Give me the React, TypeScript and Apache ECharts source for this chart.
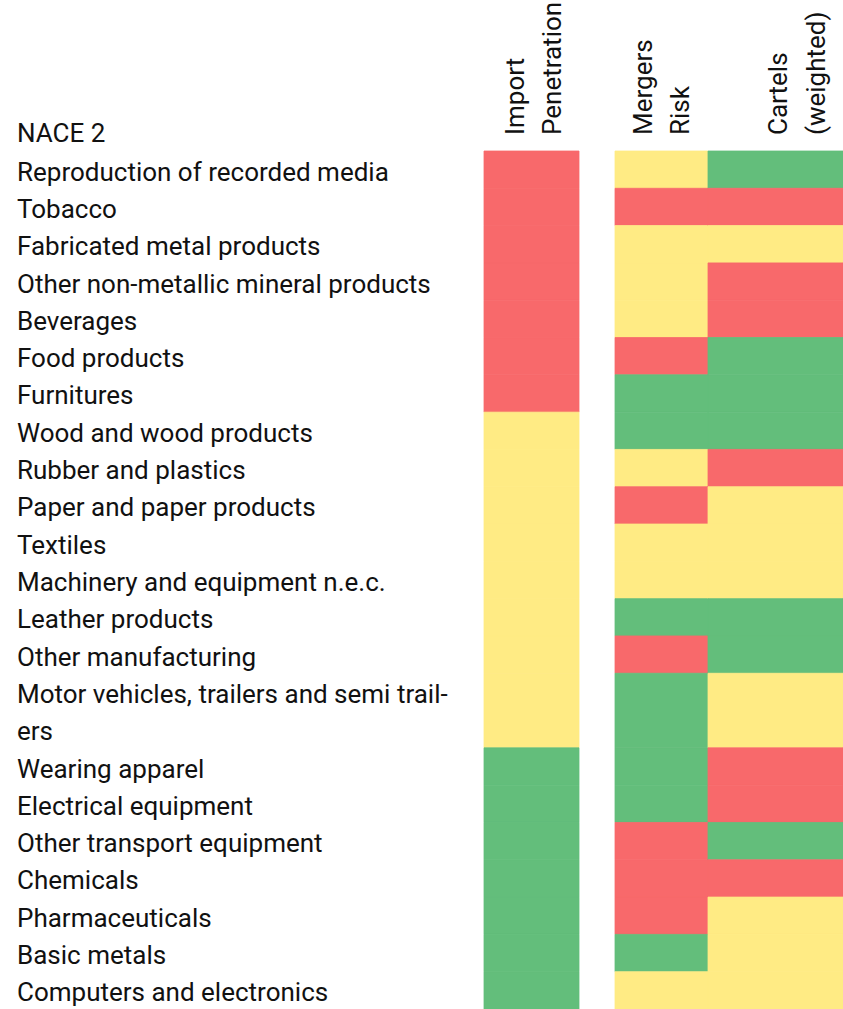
import React, { useEffect, useRef } from "react";
import * as echarts from "echarts";

const categories = [
  "Reproduction of recorded media",
  "Tobacco",
  "Fabricated metal products",
  "Other non-metallic mineral products",
  "Beverages",
  "Food products",
  "Furnitures",
  "Wood and wood products",
  "Rubber and plastics",
  "Paper and paper products",
  "Textiles",
  "Machinery and equipment n.e.c.",
  "Leather products",
  "Other manufacturing",
  "Motor vehicles, trailers and semi trail-\ners",
  "Wearing apparel",
  "Electrical equipment",
  "Other transport equipment",
  "Chemicals",
  "Pharmaceuticals",
  "Basic metals",
  "Computers and electronics",
];
const categoryLines = [1, 1, 1, 1, 1, 1, 1, 1, 1, 1, 1, 1, 1, 1, 2, 1, 1, 1, 1, 1, 1, 1];

// 0 = low (green), 1 = medium (yellow), 2 = high (red)
const importPenetration = [2, 2, 2, 2, 2, 2, 2, 1, 1, 1, 1, 1, 1, 1, 1, 0, 0, 0, 0, 0, 0, 0];
const mergersRisk = [1, 2, 1, 1, 1, 2, 0, 0, 1, 2, 1, 1, 0, 2, 0, 0, 0, 2, 2, 2, 0, 1];
const cartelsWeighted = [0, 2, 1, 2, 2, 0, 0, 0, 2, 1, 1, 1, 0, 0, 1, 2, 2, 0, 2, 1, 1, 1];

const columnTitles = [
  ["Import", "Penetration"],
  ["Mergers", "Risk"],
  ["Cartels", "(weighted)"],
];
const headerTitle = "NACE 2";

const levelColors = ["#63BE7B", "#FFEB84", "#F8696B"];

// layout (pixels)
const COLS = [
  { x0: 484, x1: 579, lines: [515, 552] },
  { x0: 615, x1: 708, lines: [643, 680] },
  { x0: 708, x1: 843, lines: [778, 816] },
];
const FONT = "Roboto";
const FONT_SIZE = 26;

export default function App() {
  const ref = useRef<HTMLDivElement>(null);
  useEffect(() => {
    const chart = echarts.init(ref.current!, undefined, { renderer: "svg" });
    const starts: number[] = [];
    let acc = 0;
    categoryLines.forEach((l) => {
      starts.push(acc);
      acc += l;
    });
    const total = acc;
    const columns = [importPenetration, mergersRisk, cartelsWeighted];
    const cellData: number[][] = [];
    columns.forEach((col, ci) =>
      col.forEach((lv, ri) => cellData.push([ci, starts[ri], categoryLines[ri], lv]))
    );
    const labelData = categories.map((_, i) => [0, starts[i], categoryLines[i], i]);

    const graphics: any[] = [
      {
        type: "text",
        x: 17,
        y: 133,
        style: {
          text: headerTitle,
          font: `${FONT_SIZE}px ${FONT}`,
          fill: "#111",
          align: "left",
          verticalAlign: "middle",
        },
      },
    ];
    columnTitles.forEach((lines, ci) =>
      lines.forEach((t, li) =>
        graphics.push({
          type: "text",
          x: COLS[ci].lines[li],
          y: 135,
          rotation: Math.PI / 2,
          style: {
            text: t,
            font: `${FONT_SIZE}px ${FONT}`,
            fill: "#111",
            align: "left",
            verticalAlign: "middle",
          },
        })
      )
    );

    chart.setOption({
      animation: false,
      grid: { left: 0, right: 0, top: 151, bottom: 0 },
      xAxis: { type: "value", min: 0, max: 1, show: false },
      yAxis: { type: "value", min: 0, max: total, inverse: true, show: false },
      graphic: graphics,
      series: [
        {
          type: "custom",
          data: cellData,
          renderItem: (params: any, api: any) => {
            const ci = api.value(0);
            const s = api.value(1);
            const n = api.value(2);
            const lv = api.value(3);
            const y0 = api.coord([0, s])[1];
            const y1 = api.coord([0, s + n])[1];
            return {
              type: "rect",
              shape: { x: COLS[ci].x0, y: y0, width: COLS[ci].x1 - COLS[ci].x0, height: y1 - y0 },
              style: { fill: levelColors[lv], stroke: levelColors[lv], lineWidth: 0.8 },
            };
          },
        },
        {
          type: "custom",
          data: labelData,
          renderItem: (params: any, api: any) => {
            const s = api.value(1);
            const idx = api.value(3);
            const y0 = api.coord([0, s])[1];
            const unit = api.coord([0, s + 1])[1] - y0;
            return {
              type: "text",
              x: 17,
              y: y0 + 2,
              style: {
                text: categories[idx],
                font: `${FONT_SIZE}px ${FONT}`,
                fill: "#111",
                align: "left",
                verticalAlign: "top",
                lineHeight: unit,
              },
            };
          },
        },
      ],
    });
    return () => chart.dispose();
  }, []);
  return (
    <div
      ref={ref}
      style={{ position: "fixed", left: 0, top: 0, width: 843, height: 1009, background: "#fff" }}
    />
  );
}
